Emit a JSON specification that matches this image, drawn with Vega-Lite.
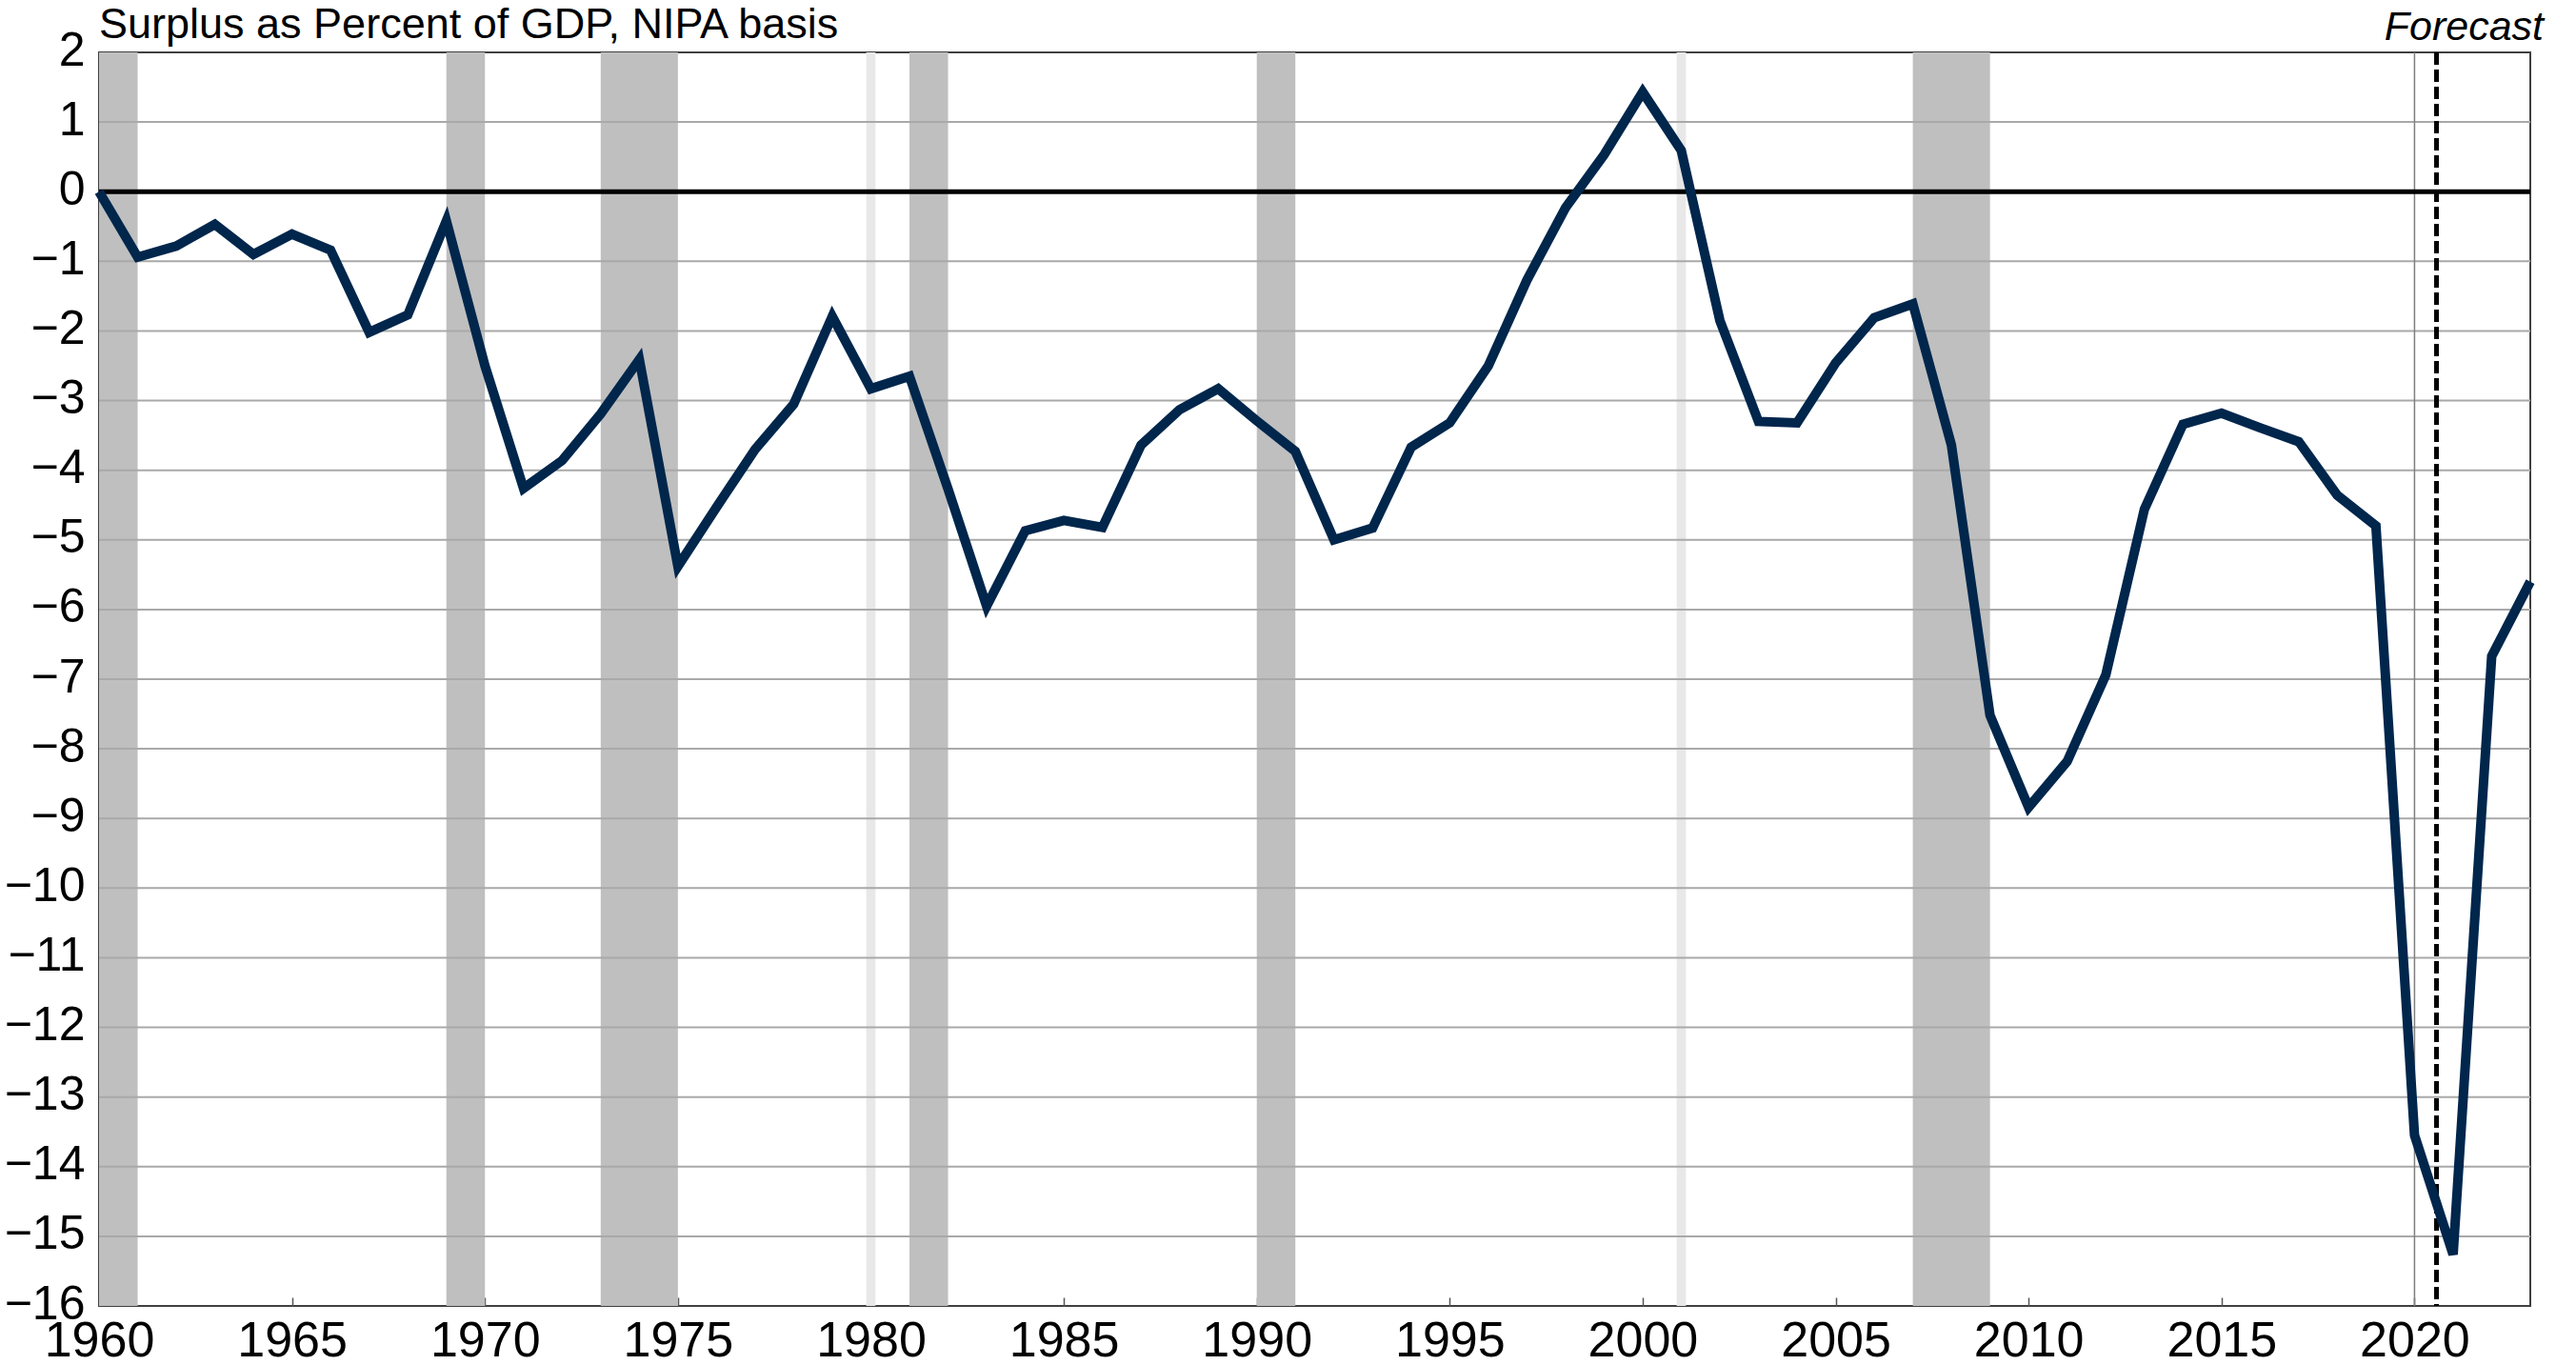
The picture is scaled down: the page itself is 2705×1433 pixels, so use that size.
{
  "$schema": "https://vega.github.io/schema/vega-lite/v6.json",
  "width": 2553,
  "height": 1316,
  "autosize": {"type": "none"},
  "padding": {"left": 104, "top": 55, "right": 48, "bottom": 62},
  "background": "white",
  "config": {
    "view": {"stroke": "#404040", "strokeWidth": 2},
    "font": "Liberation Sans",
    "axisX": {
      "domain": false, "grid": false,
      "ticks": true, "tickSize": -9, "tickColor": "#555555", "tickWidth": 1.5,
      "labelFontSize": 52, "labelFont": "Liberation Sans", "labelColor": "black",
      "labelFlush": false, "labelOverlap": false, "labelBaseline": "alphabetic", "labelPadding": 61
    },
    "axisY": {
      "domain": false, "grid": false, "ticks": false, "tickSize": 0,
      "labelFontSize": 50, "labelFont": "Liberation Sans", "labelColor": "black",
      "labelOverlap": false, "labelPadding": 15, "labelOffset": -2
    }
  },
  "datasets": {
    "surplus": [
      {"year": 1960, "pct": 0.0}, {"year": 1961, "pct": -0.94}, {"year": 1962, "pct": -0.78},
      {"year": 1963, "pct": -0.47}, {"year": 1964, "pct": -0.9}, {"year": 1965, "pct": -0.61},
      {"year": 1966, "pct": -0.84}, {"year": 1967, "pct": -2.02}, {"year": 1968, "pct": -1.77},
      {"year": 1969, "pct": -0.42}, {"year": 1970, "pct": -2.5}, {"year": 1971, "pct": -4.26},
      {"year": 1972, "pct": -3.86}, {"year": 1973, "pct": -3.19}, {"year": 1974, "pct": -2.41},
      {"year": 1975, "pct": -5.38}, {"year": 1976, "pct": -4.53}, {"year": 1977, "pct": -3.7},
      {"year": 1978, "pct": -3.05}, {"year": 1979, "pct": -1.79}, {"year": 1980, "pct": -2.83},
      {"year": 1981, "pct": -2.65}, {"year": 1982, "pct": -4.27}, {"year": 1983, "pct": -5.95},
      {"year": 1984, "pct": -4.87}, {"year": 1985, "pct": -4.72}, {"year": 1986, "pct": -4.82},
      {"year": 1987, "pct": -3.64}, {"year": 1988, "pct": -3.13}, {"year": 1989, "pct": -2.83},
      {"year": 1990, "pct": -3.29}, {"year": 1991, "pct": -3.73}, {"year": 1992, "pct": -5.0},
      {"year": 1993, "pct": -4.83}, {"year": 1994, "pct": -3.67}, {"year": 1995, "pct": -3.32},
      {"year": 1996, "pct": -2.5}, {"year": 1997, "pct": -1.27}, {"year": 1998, "pct": -0.23},
      {"year": 1999, "pct": 0.53}, {"year": 2000, "pct": 1.43}, {"year": 2001, "pct": 0.59},
      {"year": 2002, "pct": -1.85}, {"year": 2003, "pct": -3.3}, {"year": 2004, "pct": -3.32},
      {"year": 2005, "pct": -2.46}, {"year": 2006, "pct": -1.81}, {"year": 2007, "pct": -1.61},
      {"year": 2008, "pct": -3.64}, {"year": 2009, "pct": -7.52}, {"year": 2010, "pct": -8.84},
      {"year": 2011, "pct": -8.18}, {"year": 2012, "pct": -6.94}, {"year": 2013, "pct": -4.56},
      {"year": 2014, "pct": -3.34}, {"year": 2015, "pct": -3.18}, {"year": 2016, "pct": -3.39},
      {"year": 2017, "pct": -3.59}, {"year": 2018, "pct": -4.36}, {"year": 2019, "pct": -4.8},
      {"year": 2020, "pct": -13.55}, {"year": 2021, "pct": -15.26}, {"year": 2022, "pct": -6.67},
      {"year": 2023, "pct": -5.6}
    ],
    "recessions": [
      {"start": 1960.0, "end": 1961.0, "kind": "major"},
      {"start": 1969.0, "end": 1970.0, "kind": "major"},
      {"start": 1973.0, "end": 1975.0, "kind": "major"},
      {"start": 1979.88, "end": 1980.12, "kind": "minor"},
      {"start": 1981.0, "end": 1982.0, "kind": "major"},
      {"start": 1990.0, "end": 1991.0, "kind": "major"},
      {"start": 2000.88, "end": 2001.12, "kind": "minor"},
      {"start": 2007.0, "end": 2009.0, "kind": "major"}
    ],
    "gridlevels": [
      {"level": -15}, {"level": -14}, {"level": -13}, {"level": -12}, {"level": -11},
      {"level": -10}, {"level": -9}, {"level": -8}, {"level": -7}, {"level": -6},
      {"level": -5}, {"level": -4}, {"level": -3}, {"level": -2}, {"level": -1},
      {"level": 1}
    ],
    "zeroline": [{"level": 0}],
    "covid": [{"year": 2020}],
    "forecast": [{"year": 2020.57, "label": "Forecast"}],
    "heading": [{"label": "Surplus as Percent of GDP, NIPA basis"}]
  },
  "layer": [
    {
      "data": {"name": "recessions"},
      "mark": {"type": "rect"},
      "encoding": {
        "x": {
          "field": "start", "type": "quantitative", "title": null,
          "scale": {"domain": [1960, 2023], "nice": false, "zero": false},
          "axis": {"format": "d", "title": null, "values": [1960, 1965, 1970, 1975, 1980, 1985, 1990, 1995, 2000, 2005, 2010, 2015, 2020]}
        },
        "x2": {"field": "end"},
        "color": {"field": "kind", "type": "nominal", "scale": {"domain": ["major", "minor"], "range": ["#bfbfbf", "#e8e8e8"]}, "legend": null}
      }
    },
    {
      "data": {"name": "gridlevels"},
      "mark": {"type": "rule", "color": "#a9a9a9", "strokeWidth": 2},
      "encoding": {
        "y": {
          "field": "level", "type": "quantitative", "title": null,
          "scale": {"domain": [-16, 2], "nice": false, "zero": false},
          "axis": {"format": "d", "title": null, "values": [-16, -15, -14, -13, -12, -11, -10, -9, -8, -7, -6, -5, -4, -3, -2, -1, 0, 1, 2]}
        }
      }
    },
    {
      "data": {"name": "covid"},
      "mark": {"type": "rule", "color": "#7f7f7f", "strokeWidth": 1.5},
      "encoding": {
        "x": {"field": "year", "type": "quantitative", "title": null}
      }
    },
    {
      "data": {"name": "zeroline"},
      "mark": {"type": "rule", "color": "black", "strokeWidth": 5},
      "encoding": {
        "y": {"field": "level", "type": "quantitative", "title": null}
      }
    },
    {
      "data": {"name": "forecast"},
      "mark": {"type": "rule", "color": "black", "strokeWidth": 5, "strokeDash": [13, 5]},
      "encoding": {
        "x": {"field": "year", "type": "quantitative", "title": null}
      }
    },
    {
      "data": {"name": "surplus"},
      "mark": {"type": "line", "color": "#00264c", "strokeWidth": 10, "strokeJoin": "miter"},
      "encoding": {
        "x": {"field": "year", "type": "quantitative", "title": null},
        "y": {"field": "pct", "type": "quantitative", "title": null}
      }
    },
    {
      "data": {"name": "forecast"},
      "mark": {"type": "text", "align": "right", "baseline": "alphabetic", "dx": 14, "dy": -13, "fontSize": 43, "fontStyle": "italic", "font": "Liberation Sans", "color": "black"},
      "encoding": {
        "x": {"datum": 2023, "type": "quantitative", "title": null},
        "y": {"datum": 2, "type": "quantitative", "title": null},
        "text": {"field": "label"}
      }
    },
    {
      "data": {"name": "heading"},
      "mark": {"type": "text", "align": "left", "baseline": "alphabetic", "dx": 0, "dy": -15, "fontSize": 45, "font": "Liberation Sans", "color": "black"},
      "encoding": {
        "x": {"datum": 1960, "type": "quantitative", "title": null},
        "y": {"datum": 2, "type": "quantitative", "title": null},
        "text": {"field": "label"}
      }
    }
  ]
}
